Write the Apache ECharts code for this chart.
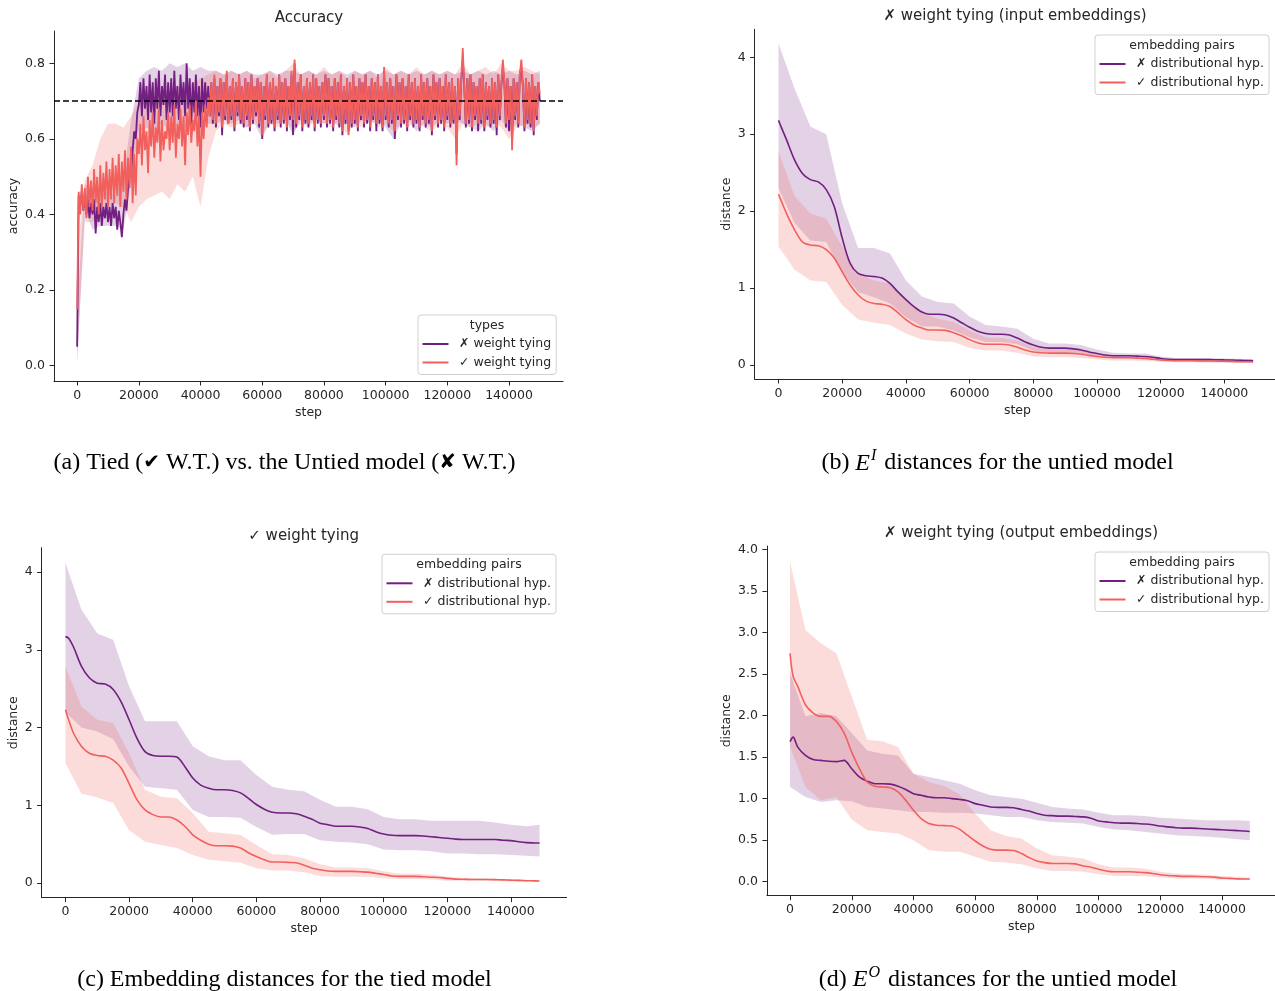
<!DOCTYPE html>
<html><head><meta charset="utf-8">
<script src="https://cdn.jsdelivr.net/npm/echarts@6/dist/echarts.min.js"></script>
<style>html,body{margin:0;padding:0;background:#fff}#c{width:1275px;height:991px}</style>
</head><body><div id="c"></div><script>
// ---------- DATA ----------
const ACC_STEPS = Array.from({length: 301}, (_, i) => i * 500);
const ACC_UNTIED = [
0.05,0.45,0.42,0.46,0.41,0.45,0.40,0.44,0.39,0.43,0.40,0.44,0.35,0.42,0.38,0.43,0.37,0.42,0.39,0.43,
0.38,0.42,0.37,0.43,0.39,0.42,0.36,0.41,0.38,0.34,0.40,0.44,0.41,0.47,0.52,0.50,0.57,0.62,0.60,0.67,
0.69,0.75,0.66,0.76,0.68,0.74,0.65,0.77,0.67,0.75,0.64,0.76,0.68,0.78,0.66,0.74,0.69,0.77,0.65,0.75,
0.67,0.76,0.66,0.78,0.68,0.74,0.65,0.77,0.69,0.75,0.66,0.80,0.68,0.76,0.64,0.75,0.67,0.77,0.66,0.74,
0.63,0.76,0.67,0.75,0.68,0.74,0.66,0.75,0.64,0.76,0.63,0.74,0.66,0.76,0.61,0.75,0.65,0.77,0.64,0.74,
0.65,0.76,0.62,0.75,0.66,0.77,0.64,0.74,0.63,0.76,0.65,0.75,0.62,0.77,0.64,0.74,0.66,0.76,0.63,0.75,
0.60,0.74,0.65,0.77,0.63,0.75,0.64,0.76,0.62,0.74,0.65,0.77,0.63,0.75,0.64,0.76,0.62,0.74,0.65,0.77,
0.61,0.80,0.63,0.75,0.65,0.77,0.62,0.74,0.64,0.76,0.63,0.75,0.65,0.77,0.62,0.76,0.64,0.74,0.63,0.75,
0.65,0.77,0.63,0.76,0.64,0.74,0.62,0.76,0.65,0.75,0.63,0.77,0.61,0.74,0.64,0.76,0.62,0.75,0.63,0.77,
0.64,0.74,0.62,0.76,0.65,0.75,0.63,0.77,0.64,0.74,0.62,0.76,0.65,0.75,0.62,0.77,0.64,0.74,0.62,0.78,
0.65,0.75,0.63,0.76,0.64,0.74,0.60,0.77,0.65,0.75,0.63,0.76,0.64,0.74,0.62,0.77,0.65,0.75,0.63,0.76,
0.64,0.74,0.62,0.77,0.65,0.75,0.63,0.76,0.64,0.74,0.61,0.77,0.65,0.75,0.63,0.76,0.64,0.74,0.62,0.77,
0.65,0.75,0.63,0.76,0.64,0.74,0.56,0.76,0.65,0.75,0.81,0.74,0.63,0.76,0.64,0.77,0.62,0.75,0.65,0.74,
0.62,0.76,0.64,0.77,0.62,0.75,0.65,0.74,0.63,0.76,0.64,0.75,0.61,0.77,0.65,0.74,0.79,0.75,0.63,0.76,
0.62,0.74,0.59,0.76,0.65,0.75,0.63,0.77,0.79,0.74,0.62,0.76,0.64,0.75,0.63,0.77,0.61,0.74,0.65,0.75,
0.70];
const ACC_TIED = [
0.15,0.46,0.40,0.48,0.41,0.47,0.39,0.50,0.42,0.49,0.41,0.52,0.43,0.50,0.40,0.53,0.42,0.51,0.44,0.54,
0.42,0.52,0.44,0.55,0.43,0.53,0.45,0.56,0.42,0.54,0.46,0.57,0.44,0.55,0.47,0.58,0.43,0.56,0.45,0.60,
0.56,0.64,0.53,0.66,0.57,0.62,0.51,0.65,0.58,0.67,0.55,0.63,0.59,0.68,0.54,0.65,0.57,0.62,0.60,0.67,
0.57,0.66,0.59,0.69,0.55,0.64,0.60,0.68,0.58,0.66,0.53,0.67,0.61,0.69,0.59,0.65,0.62,0.70,0.58,0.66,
0.50,0.67,0.60,0.69,0.63,0.71,0.66,0.75,0.65,0.77,0.64,0.74,0.67,0.76,0.63,0.75,0.66,0.78,0.64,0.74,
0.66,0.76,0.63,0.75,0.67,0.77,0.65,0.74,0.64,0.76,0.66,0.75,0.63,0.77,0.65,0.74,0.67,0.76,0.64,0.75,
0.61,0.74,0.66,0.77,0.64,0.75,0.65,0.76,0.63,0.74,0.66,0.77,0.64,0.75,0.65,0.76,0.63,0.74,0.66,0.78,
0.65,0.81,0.64,0.75,0.66,0.77,0.63,0.74,0.65,0.76,0.64,0.75,0.66,0.77,0.63,0.76,0.65,0.74,0.64,0.75,
0.66,0.77,0.64,0.76,0.65,0.74,0.63,0.76,0.66,0.75,0.64,0.77,0.62,0.74,0.65,0.76,0.61,0.75,0.64,0.77,
0.65,0.74,0.63,0.76,0.66,0.75,0.64,0.77,0.65,0.74,0.63,0.76,0.66,0.75,0.64,0.77,0.65,0.74,0.63,0.79,
0.66,0.75,0.64,0.76,0.65,0.74,0.62,0.77,0.66,0.75,0.64,0.76,0.65,0.74,0.63,0.77,0.66,0.75,0.64,0.76,
0.65,0.74,0.63,0.77,0.66,0.75,0.64,0.76,0.65,0.74,0.62,0.77,0.66,0.75,0.64,0.76,0.65,0.74,0.63,0.77,
0.66,0.75,0.64,0.76,0.65,0.74,0.53,0.76,0.66,0.75,0.84,0.74,0.64,0.76,0.65,0.77,0.63,0.75,0.66,0.74,
0.64,0.76,0.65,0.77,0.63,0.75,0.66,0.74,0.64,0.76,0.65,0.75,0.63,0.77,0.66,0.74,0.81,0.75,0.64,0.76,
0.65,0.74,0.57,0.76,0.66,0.75,0.64,0.77,0.81,0.74,0.63,0.76,0.65,0.75,0.64,0.77,0.62,0.74,0.66,0.75,
0.72];
const ACC_BAND_STEPS = Array.from({length: 61}, (_, i) => i * 2500);
const ACC_TIED_LO = [0.02,0.38,0.38,0.40,0.42,0.43,0.42,0.38,0.42,0.44,0.45,0.46,0.44,0.48,0.46,0.50,0.42,0.55,0.62,0.64,
0.63,0.64,0.63,0.65,0.61,0.64,0.63,0.65,0.62,0.64,0.63,0.65,0.64,0.63,0.65,0.61,0.64,0.63,0.65,0.63,
0.64,0.62,0.64,0.63,0.65,0.63,0.62,0.64,0.63,0.60,0.64,0.63,0.64,0.63,0.64,0.63,0.60,0.63,0.64,0.63,0.64];
const ACC_TIED_HI = [0.30,0.49,0.53,0.60,0.64,0.64,0.63,0.66,0.70,0.72,0.71,0.72,0.73,0.74,0.72,0.75,0.76,0.77,0.78,0.77,
0.78,0.77,0.78,0.76,0.77,0.78,0.76,0.78,0.80,0.77,0.78,0.77,0.79,0.77,0.78,0.76,0.78,0.77,0.78,0.76,
0.79,0.77,0.78,0.77,0.79,0.77,0.78,0.77,0.78,0.77,0.80,0.77,0.78,0.79,0.77,0.80,0.78,0.78,0.79,0.78,0.77];
const ACC_UNTIED_LO = [0.005,0.41,0.36,0.37,0.37,0.37,0.36,0.48,0.62,0.63,0.62,0.64,0.62,0.64,0.63,0.64,0.62,0.64,0.64,0.65,
0.64,0.65,0.63,0.64,0.60,0.65,0.64,0.65,0.61,0.65,0.64,0.65,0.64,0.65,0.63,0.64,0.63,0.65,0.64,0.65,
0.63,0.60,0.64,0.65,0.62,0.64,0.63,0.65,0.64,0.65,0.64,0.63,0.62,0.64,0.62,0.65,0.62,0.64,0.63,0.62,0.64];
const ACC_UNTIED_HI = [0.15,0.48,0.47,0.45,0.46,0.45,0.50,0.65,0.76,0.78,0.79,0.78,0.80,0.79,0.80,0.78,0.79,0.78,0.78,0.77,
0.78,0.77,0.78,0.77,0.77,0.78,0.77,0.78,0.78,0.77,0.78,0.77,0.78,0.77,0.78,0.77,0.78,0.77,0.78,0.77,
0.78,0.77,0.78,0.77,0.78,0.77,0.78,0.77,0.78,0.77,0.78,0.77,0.78,0.77,0.78,0.77,0.78,0.77,0.78,0.77,0.78];
const ACC_THRESHOLD = 0.7;

const DIST_STEPS = [0,1000,2500,5000,7500,10000,12500,15000,17500,20000,22500,25000,27500,30000,32500,35000,37500,40000,42500,45000,47500,50000,52500,55000,57500,60000,62500,65000,67500,70000,72500,75000,77500,80000,82500,85000,87500,90000,92500,95000,97500,100000,102500,105000,107500,110000,112500,115000,117500,120000,122500,125000,127500,130000,132500,135000,137500,140000,142500,145000,147500,149000];
const DIST_BAND_STEPS = [0,5000,10000,15000,20000,25000,30000,35000,40000,45000,50000,55000,60000,65000,70000,75000,80000,85000,90000,95000,100000,105000,110000,115000,120000,125000,130000,135000,140000,145000,149000];

// (b) input embeddings, untied
const B_NODH = [3.18,3.08,2.93,2.67,2.49,2.41,2.38,2.28,2.06,1.65,1.32,1.19,1.16,1.15,1.13,1.06,0.95,0.85,0.76,0.69,0.66,0.66,0.65,0.61,0.55,0.49,0.44,0.41,0.40,0.40,0.39,0.35,0.30,0.26,0.23,0.22,0.22,0.22,0.21,0.195,0.17,0.15,0.13,0.12,0.12,0.12,0.115,0.11,0.10,0.085,0.075,0.07,0.07,0.07,0.07,0.07,0.068,0.066,0.065,0.06,0.058,0.056];
const B_DH = [2.22,2.12,1.97,1.76,1.60,1.56,1.55,1.50,1.39,1.21,1.04,0.91,0.83,0.80,0.79,0.76,0.68,0.59,0.52,0.48,0.455,0.455,0.45,0.42,0.38,0.33,0.29,0.27,0.27,0.27,0.26,0.23,0.195,0.17,0.16,0.155,0.155,0.155,0.15,0.14,0.125,0.11,0.10,0.095,0.095,0.095,0.09,0.085,0.075,0.065,0.058,0.055,0.055,0.055,0.053,0.052,0.05,0.048,0.045,0.043,0.042,0.04];
const B_NODH_LO = [2.3,1.85,1.62,1.6,1.2,0.95,0.88,0.8,0.62,0.5,0.5,0.45,0.36,0.3,0.3,0.27,0.19,0.16,0.16,0.15,0.11,0.09,0.09,0.08,0.06,0.05,0.05,0.05,0.045,0.04,0.04];
const B_NODH_HI = [4.18,3.6,3.1,3.0,2.1,1.52,1.52,1.45,1.1,0.89,0.82,0.8,0.63,0.52,0.5,0.47,0.34,0.28,0.28,0.26,0.2,0.16,0.15,0.15,0.11,0.09,0.09,0.09,0.085,0.08,0.075];
const B_DH_LO = [1.54,1.24,1.1,1.08,0.78,0.59,0.55,0.52,0.41,0.33,0.31,0.3,0.22,0.19,0.19,0.16,0.11,0.1,0.1,0.09,0.07,0.06,0.06,0.055,0.04,0.035,0.035,0.03,0.03,0.025,0.025];
const B_DH_HI = [2.78,2.2,1.97,1.9,1.54,1.19,1.1,1.06,0.85,0.67,0.6,0.56,0.45,0.36,0.35,0.32,0.23,0.2,0.2,0.19,0.14,0.12,0.12,0.11,0.085,0.07,0.065,0.06,0.06,0.055,0.055];

// (c) tied model
const C_NODH = [3.17,3.15,3.04,2.79,2.64,2.57,2.56,2.49,2.33,2.10,1.86,1.69,1.64,1.63,1.63,1.62,1.50,1.35,1.26,1.22,1.20,1.20,1.19,1.16,1.09,1.01,0.95,0.91,0.90,0.90,0.89,0.86,0.82,0.77,0.75,0.73,0.73,0.73,0.72,0.70,0.66,0.63,0.615,0.61,0.61,0.61,0.605,0.595,0.585,0.575,0.565,0.56,0.56,0.56,0.56,0.56,0.55,0.545,0.53,0.52,0.515,0.515];
const C_DH = [2.23,2.10,1.93,1.76,1.67,1.64,1.63,1.58,1.48,1.28,1.07,0.94,0.88,0.85,0.85,0.81,0.73,0.62,0.55,0.50,0.48,0.48,0.475,0.45,0.39,0.34,0.30,0.27,0.27,0.265,0.26,0.23,0.19,0.17,0.155,0.15,0.15,0.15,0.145,0.14,0.125,0.11,0.09,0.085,0.085,0.085,0.08,0.075,0.07,0.06,0.05,0.048,0.046,0.045,0.045,0.043,0.04,0.037,0.034,0.03,0.028,0.025];
const C_NODH_LO = [2.2,2.0,1.95,1.85,1.5,1.24,1.22,1.2,0.94,0.85,0.85,0.84,0.72,0.62,0.63,0.63,0.55,0.53,0.52,0.5,0.43,0.42,0.42,0.41,0.38,0.38,0.37,0.37,0.36,0.35,0.34];
const C_NODH_HI = [4.12,3.52,3.21,3.13,2.53,2.08,2.08,2.08,1.76,1.63,1.58,1.58,1.39,1.24,1.2,1.18,1.07,0.98,0.98,0.95,0.85,0.82,0.82,0.8,0.8,0.8,0.8,0.78,0.75,0.73,0.75];
const C_DH_LO = [1.54,1.15,1.1,1.03,0.68,0.53,0.49,0.45,0.36,0.3,0.28,0.26,0.19,0.16,0.16,0.14,0.09,0.08,0.08,0.08,0.06,0.05,0.05,0.045,0.03,0.03,0.03,0.025,0.02,0.015,0.015];
const C_DH_HI = [2.79,2.27,2.1,2.06,1.67,1.2,1.11,1.09,0.9,0.66,0.64,0.62,0.49,0.37,0.36,0.32,0.24,0.2,0.2,0.19,0.15,0.12,0.12,0.11,0.08,0.065,0.06,0.055,0.05,0.04,0.035];

// (d) output embeddings, untied
const D_NODH = [1.685,1.74,1.62,1.52,1.47,1.46,1.45,1.445,1.46,1.36,1.26,1.21,1.18,1.18,1.175,1.15,1.11,1.06,1.04,1.02,1.01,1.01,1.0,0.99,0.975,0.94,0.92,0.90,0.895,0.895,0.89,0.87,0.85,0.82,0.80,0.795,0.79,0.79,0.785,0.78,0.765,0.73,0.72,0.71,0.705,0.705,0.70,0.695,0.685,0.67,0.66,0.65,0.645,0.645,0.64,0.635,0.63,0.625,0.62,0.615,0.61,0.605];
const D_DH = [2.75,2.47,2.35,2.13,2.03,1.99,1.99,1.93,1.79,1.56,1.36,1.20,1.15,1.14,1.13,1.08,0.98,0.86,0.76,0.70,0.68,0.675,0.67,0.63,0.56,0.49,0.43,0.39,0.38,0.38,0.375,0.34,0.29,0.25,0.23,0.22,0.22,0.22,0.215,0.19,0.175,0.15,0.13,0.12,0.12,0.12,0.115,0.11,0.10,0.085,0.075,0.07,0.065,0.065,0.063,0.06,0.055,0.045,0.04,0.035,0.033,0.033];
const D_NODH_LO = [1.14,1.02,0.96,0.98,0.97,0.9,0.88,0.86,0.84,0.84,0.83,0.83,0.82,0.8,0.78,0.78,0.74,0.72,0.71,0.7,0.66,0.63,0.62,0.6,0.58,0.56,0.55,0.54,0.53,0.51,0.5];
const D_NODH_HI = [2.51,1.99,2.03,1.99,1.79,1.58,1.54,1.52,1.3,1.26,1.22,1.18,1.1,1.04,1.02,1.0,0.95,0.9,0.88,0.87,0.83,0.8,0.8,0.79,0.77,0.76,0.75,0.74,0.74,0.74,0.73];
const D_DH_LO = [1.62,1.14,0.98,1.02,0.75,0.62,0.6,0.58,0.5,0.38,0.36,0.36,0.3,0.24,0.23,0.21,0.16,0.13,0.13,0.12,0.09,0.07,0.07,0.065,0.05,0.04,0.04,0.035,0.025,0.02,0.02];
const D_DH_HI = [3.85,3.03,2.87,2.75,2.23,1.71,1.69,1.62,1.3,1.2,1.15,1.05,0.82,0.62,0.55,0.52,0.4,0.32,0.3,0.28,0.21,0.17,0.17,0.16,0.12,0.1,0.09,0.085,0.07,0.06,0.05];

const STEP_TICKS = [0,20000,40000,60000,80000,100000,120000,140000];
const ACC_TICKS = [0,0.2,0.4,0.6,0.8];
const DIST_TICKS_INT = [0,1,2,3,4];
const DIST_TICKS_HALF = [0,0.5,1,1.5,2,2.5,3,3.5,4];

const N_UNTIED = '\u2717 weight tying', N_TIED = '\u2713 weight tying';
const N_NODH = '\u2717 distributional hyp.', N_DH = '\u2713 distributional hyp.';

// ---------- STYLE ----------
const C_PURPLE = '#721f81', C_RED = '#f1605d';
const F_PURPLE = 'rgba(114,31,129,0.2)', F_RED = 'rgba(241,96,93,0.22)';
const TXT = '#262626', FONT = 'DejaVu Sans';

function pairs(xs, ys) { return xs.map((x, i) => [x, ys[i]]); }
function band(g, xs, lo, hi, color) {
  return {type: 'custom', xAxisIndex: g, yAxisIndex: g, silent: true, z: 1, clip: true,
    data: xs.map((x, i) => [x, lo[i], hi[i]]),
    encode: {x: 0, y: [1, 2]},
    renderItem: function (params, api) {
      if (params.dataIndex !== 0) return null;
      const top = xs.map((x, i) => api.coord([x, hi[i]]));
      const bot = xs.map((x, i) => api.coord([x, lo[i]])).reverse();
      return {type: 'polygon', shape: {points: top.concat(bot)}, style: {fill: color}};
    }};
}
function line(g, name, xs, ys, color, z, smooth, width, extra) {
  return Object.assign({type: 'line', name: name, xAxisIndex: g, yAxisIndex: g, data: pairs(xs, ys),
    symbol: 'none', smooth: smooth, z: z, lineStyle: {color: color, width: width}, itemStyle: {color: color}}, extra || {});
}

const grids = [
  {left: 54, top: 31, width: 509, height: 350},
  {left: 754.6, top: 29.3, width: 525.6, height: 349.7},
  {left: 41.6, top: 547.7, width: 525, height: 350},
  {left: 766.9, top: 546, width: 509.1, height: 349.7}
].map(g => Object.assign({outerBoundsMode: 'none', containLabel: false}, g));

const axisLineStyle = {show: true, onZero: false, lineStyle: {color: TXT, width: 1}};
function xAx(g) {
  return {type: 'value', gridIndex: g, min: -7500, max: 157500,
    axisLine: axisLineStyle, splitLine: {show: false},
    axisTick: {show: true, inside: false, length: 4.5, lineStyle: {color: TXT}, customValues: STEP_TICKS},
    axisLabel: {customValues: STEP_TICKS, color: TXT, fontSize: 12.5, fontFamily: FONT, margin: 8, formatter: v => String(v)},
    name: 'step', nameLocation: 'middle', nameGap: 25, nameTextStyle: {color: TXT, fontSize: 12.5, fontFamily: FONT}};
}
function yAx(g, min, max, ticks, dec, name, gap) {
  return {type: 'value', gridIndex: g, min: min, max: max,
    axisLine: axisLineStyle, splitLine: {show: false},
    axisTick: {show: true, inside: false, length: 4.5, lineStyle: {color: TXT}, customValues: ticks},
    axisLabel: {customValues: ticks, color: TXT, fontSize: 12.5, fontFamily: FONT, margin: 9, formatter: v => v.toFixed(dec)},
    name: name, nameLocation: 'middle', nameRotate: 90, nameGap: gap, nameTextStyle: {color: TXT, fontSize: 12.5, fontFamily: FONT}};
}

function legend(names, left, top) {
  return {data: names, left: left, top: top, orient: 'vertical', icon: 'rect', itemWidth: 26, itemHeight: 2,
    itemGap: 4.5, padding: [22, 5, 5, 4.5], selectedMode: false,
    itemStyle: {borderWidth: 0},
    textStyle: {color: TXT, fontSize: 12.5, fontFamily: FONT, lineHeight: 14, padding: [0, 0, 0, 5.5]},
    backgroundColor: '#ffffff', borderColor: '#d0d0d0', borderWidth: 1, borderRadius: 3};
}
function txt(x, y, s, size) {
  return {type: 'text', x: x, y: y, z: 100, style: {text: s, font: size + 'px "' + FONT + '"', fill: TXT,
    align: 'center', verticalAlign: 'middle', textAlign: 'center', textVerticalAlign: 'middle'}};
}
const SERIF = '"Liberation Serif", "DejaVu Sans"';
const CAP = 24;
const CAP_RICH = {
  r: {font: CAP + 'px ' + SERIF, fill: '#000', lineHeight: 27, verticalAlign: 'bottom'},
  g: {font: '20px "DejaVu Sans"', fill: '#000', lineHeight: 27, verticalAlign: 'bottom', padding: [0, 0, 2, 0]},
  i: {font: 'italic ' + CAP + 'px "Liberation Serif"', fill: '#000', lineHeight: 27, verticalAlign: 'bottom'},
  s: {font: 'italic 16px "Liberation Serif"', fill: '#000', lineHeight: 13, verticalAlign: 'top', padding: [0, 2, 0, 1]}
};
function caption(x, y, s) {
  return {type: 'text', x: x, y: y, z: 100, style: {text: s, rich: CAP_RICH, font: CAP + 'px ' + SERIF, fill: '#000',
    align: 'center', verticalAlign: 'middle', textAlign: 'center', textVerticalAlign: 'middle'}};
}

const series = [
  band(0, ACC_BAND_STEPS, ACC_UNTIED_LO, ACC_UNTIED_HI, F_PURPLE),
  band(0, ACC_BAND_STEPS, ACC_TIED_LO, ACC_TIED_HI, F_RED),
  line(0, N_UNTIED, ACC_STEPS, ACC_UNTIED, C_PURPLE, 3, false, 1.8),
  line(0, N_TIED, ACC_STEPS, ACC_TIED, C_RED, 4, false, 1.8, {
    markLine: {silent: true, symbol: 'none', label: {show: false}, animation: false,
      lineStyle: {color: '#000', type: [6, 3], width: 1.5}, data: [{yAxis: ACC_THRESHOLD}]}}),
  band(1, DIST_BAND_STEPS, B_NODH_LO, B_NODH_HI, F_PURPLE),
  band(1, DIST_BAND_STEPS, B_DH_LO, B_DH_HI, F_RED),
  line(1, N_NODH, DIST_STEPS, B_NODH, C_PURPLE, 3, 0.3, 1.6),
  line(1, N_DH, DIST_STEPS, B_DH, C_RED, 4, 0.3, 1.6),
  band(2, DIST_BAND_STEPS, C_NODH_LO, C_NODH_HI, F_PURPLE),
  band(2, DIST_BAND_STEPS, C_DH_LO, C_DH_HI, F_RED),
  line(2, N_NODH, DIST_STEPS, C_NODH, C_PURPLE, 3, 0.3, 1.6),
  line(2, N_DH, DIST_STEPS, C_DH, C_RED, 4, 0.3, 1.6),
  band(3, DIST_BAND_STEPS, D_NODH_LO, D_NODH_HI, F_PURPLE),
  band(3, DIST_BAND_STEPS, D_DH_LO, D_DH_HI, F_RED),
  line(3, N_NODH, DIST_STEPS, D_NODH, C_PURPLE, 3, 0.3, 1.6),
  line(3, N_DH, DIST_STEPS, D_DH, C_RED, 4, 0.3, 1.6)
];

const chart = echarts.init(document.getElementById('c'), null, {renderer: 'canvas'});
chart.setOption({
  animation: false,
  backgroundColor: '#ffffff',
  grid: grids,
  xAxis: [xAx(0), xAx(1), xAx(2), xAx(3)],
  yAxis: [
    yAx(0, -0.0405, 0.8854, ACC_TICKS, 1, 'accuracy', 33.5),
    yAx(1, -0.182, 4.364, DIST_TICKS_INT, 0, 'distance', 21.6),
    yAx(2, -0.189, 4.314, DIST_TICKS_INT, 0, 'distance', 21),
    yAx(3, -0.168, 4.04, DIST_TICKS_HALF, 1, 'distance', 33.6)
  ],
  legend: [
    legend([N_UNTIED, N_TIED], 418, 315),
    legend([N_NODH, N_DH], 1095, 35),
    legend([N_NODH, N_DH], 382, 554.3),
    legend([N_NODH, N_DH], 1095, 552)
  ],
  series: series,
  graphic: {elements: [
    txt(309, 18, 'Accuracy', 15),
    txt(1015, 15.7, '\u2717 weight tying (input embeddings)', 15),
    txt(303.6, 535.7, '\u2713 weight tying', 15),
    txt(1021, 533.3, '\u2717 weight tying (output embeddings)', 15),
    txt(487, 326, 'types', 12.5),
    txt(1182, 45.7, 'embedding pairs', 12.5),
    txt(469, 564.3, 'embedding pairs', 12.5),
    txt(1182, 562.7, 'embedding pairs', 12.5),
    caption(284.5, 461.7, '{r|(a) Tied (}{g|\u2714}{r| W.T.) vs. the Untied model (}{g|\u2718}{r| W.T.)}'),
    caption(997.5, 461.7, '{r|(b) }{i|E}{s|I}{r| distances for the untied model}'),
    caption(284.5, 978, '{r|(c) Embedding distances for the tied model}'),
    caption(998, 978, '{r|(d) }{i|E}{s|O}{r| distances for the untied model}')
  ]}
});
</script></body></html>
